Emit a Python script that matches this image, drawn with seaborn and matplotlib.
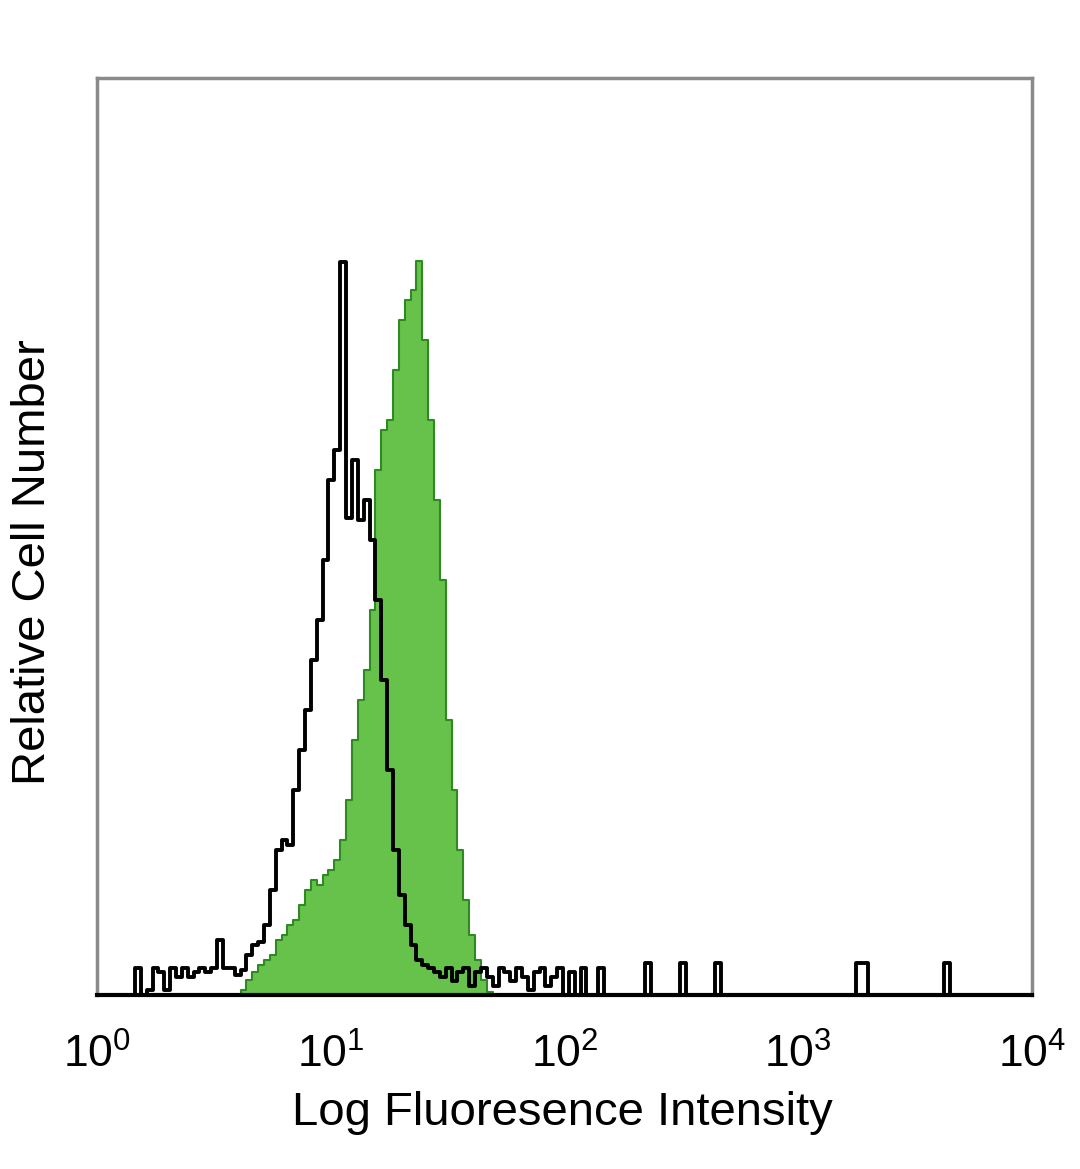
import numpy as np
import seaborn as sns
import matplotlib.pyplot as plt
from matplotlib.ticker import LogLocator, NullLocator

sns.set_theme(style="white")
plt.rcParams["font.family"] = ["Liberation Sans", "DejaVu Sans"]
plt.rcParams["text.color"] = "black"
plt.rcParams["axes.labelcolor"] = "black"
plt.rcParams["xtick.color"] = "black"

# histogram channels, log10 of intensity, width 0.025 decade
bin_width = 0.025
black_start = 0.15
black_counts = [0, 3, 0, 0.5, 3, 2.5, 0.5, 3, 2, 3, 2, 2.5, 3, 2.5, 3, 6, 3, 3,
                2.2, 2.7, 4.4, 5.5, 5.8, 7.6, 11.5, 15.8, 16.9, 16.4, 22.4, 26.7,
                31.1, 36.5, 40.9, 47.4, 56.2, 59.4, 79.9, 52, 58.3, 51.8, 54, 49.6,
                43.1, 34.4, 24.5, 15.8, 10.9, 7.6, 5.5, 3.8, 3.3, 2.9, 2.5,
                2, 3, 1.5, 2.5, 3, 1, 2.5, 3, 2, 1, 3, 2.5, 1.5, 3, 2, 0.5,
                2.5, 3, 1, 2, 3, 0, 2.5, 0, 3, 0, 0, 3]
black_sparse_log = [2.37, 2.515, 2.665, 3.27, 3.295, 3.64]
black_sparse_counts = [3.5, 3.5, 3.5, 3.5, 3.5, 3.5]

green_start = 0.6
green_counts = [0, 0.5, 1.6, 2.5, 3.3, 3.8, 4.4, 6, 6.5, 7.6, 8.2, 9.8, 11.5,
                12.5, 12, 13.1, 13.6, 14.7, 16.9, 21.3, 27.8, 32.2, 35.4, 42,
                57.3, 61.6, 62.7, 68.2, 73.6, 75.8, 76.9, 80, 71.4, 62.7, 54,
                45.3, 30, 22.4, 15.8, 10.4, 6.5, 3.8, 1.6, 0.3]

black_log = black_start + bin_width * np.arange(len(black_counts))
black_log = np.concatenate([black_log, black_sparse_log])
black_w = np.concatenate([black_counts, black_sparse_counts])
green_log = green_start + bin_width * np.arange(len(green_counts))

fig = plt.figure(figsize=(10.8, 11.69), dpi=100)
ax = fig.add_axes([0.0898, 0.1488, 0.8657, 0.7845])

brange = (black_start - bin_width / 2, 3.8)
sns.histplot(x=10 ** green_log, weights=green_counts, binwidth=bin_width,
             binrange=brange, log_scale=True, element="step", fill=True,
             color="#66c24a", alpha=1, edgecolor="#2f8a22", linewidth=1.5, ax=ax)
sns.histplot(x=10 ** black_log, weights=black_w, binwidth=bin_width,
             binrange=brange, log_scale=True, element="step", fill=False,
             color="black", linewidth=2.8, ax=ax)

ax.set_xlim(1, 1e4)
ax.set_ylim(0, 100)
ax.xaxis.set_major_locator(LogLocator(base=10, numticks=10))
ax.xaxis.set_minor_locator(NullLocator())
ax.set_yticks([])
ax.tick_params(axis="x", length=0, pad=28, labelsize=32)

for side in ["left", "top", "right"]:
    ax.spines[side].set_color("#8a8a8a")
    ax.spines[side].set_linewidth(2.5)
ax.spines["bottom"].set_color("black")
ax.spines["bottom"].set_linewidth(3)

ax.set_xlabel("Log Fluoresence Intensity", fontsize=34)
ax.set_ylabel("Relative Cell Number", fontsize=34)
ax.xaxis.set_label_coords(0.498, -0.105)
ax.yaxis.set_label_coords(-0.045, 0.472)

fig.savefig("out.png", dpi=100)
